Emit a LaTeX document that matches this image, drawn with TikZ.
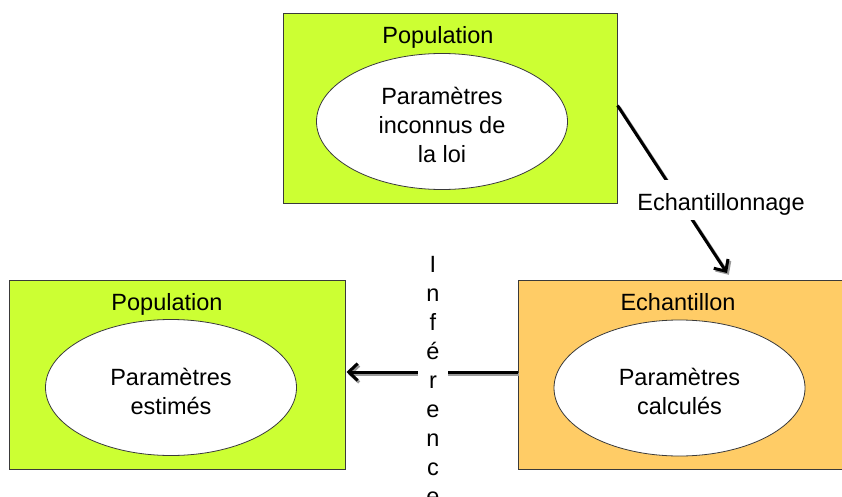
\documentclass[tikz,border=0pt]{standalone}
\usepackage{fontspec}
\setmainfont{Liberation Sans}
\usetikzlibrary{shapes.geometric,arrows.meta}
\definecolor{popgreen}{HTML}{CCFF33}
\definecolor{echorange}{HTML}{FFCC66}
\definecolor{edgegrey}{HTML}{3A3A3A}
\definecolor{shadowgrey}{HTML}{9A9A9A}
\newcommand\dfont{\fontsize{23.5}{29}\selectfont}
\begin{document}
\begin{tikzpicture}[x=1pt,y=-1pt,
  box/.style={draw=edgegrey, line width=1pt, rectangle, inner sep=0, minimum height=189pt},
  ell/.style={draw=edgegrey, line width=0.8pt, ellipse, fill=white, inner sep=0,
    minimum width=251pt, minimum height=136pt},
  etext/.style={align=center, font=\dfont, inner sep=0},
  title/.style={anchor=base, font=\dfont, inner sep=0},
  conn/.style={line width=3pt, -{Straight Barb[length=9pt,width=17pt]}},
  shade/.style={conn, draw=shadowgrey}
]
\useasboundingbox (0,0) rectangle (842,497);
\clip (0,0) rectangle (842,497);
\fill[white] (0,0) rectangle (842,497);

% boxes
\node[box, fill=popgreen, minimum width=334pt] (popTop) at (450,108.5) {};
\node[box, fill=popgreen, minimum width=336pt] (popLeft) at (177,374.5) {};
\node[box, fill=echorange, minimum width=352pt] (ech) at (694,374.5) {};

% ellipses
\node[ell] (eTop) at (442,121.5) {};
\node[ell] (eLeft) at (171,387.5) {};
\node[ell] (eRight) at (679.5,388) {};
\node[etext] (xTop) at ([yshift=-3.5pt]eTop.center) {Paramètres\\inconnus de\\la loi};
\node[etext] (xLeft) at ([yshift=-3.5pt]eLeft.center) {Paramètres\\estimés};
\node[etext] (xRight) at ([yshift=-3.5pt]eRight.center) {Paramètres\\calculés};

% titles
\node[title] (tTop) at (438,44) {Population};
\node[title] (tLeft) at (167,310) {Population};
\node[title] (tRight) at (678,310) {Echantillon};

% connectors
\coordinate (a1end) at (727,273);
\draw[shade] ([xshift=1.8pt,yshift=1.2pt]popTop.east) -- ([xshift=1.8pt,yshift=-1.8pt]a1end);
\draw[conn] ([yshift=3pt]popTop.east) -- (a1end);
\draw[shade] ([xshift=1.5pt,yshift=0.5pt]ech.west) -- ([yshift=0.5pt,xshift=2.5pt]popLeft.east);
\draw[conn] ([yshift=2.5pt]ech.west) -- ([yshift=2.5pt,xshift=1pt]popLeft.east);

% labels
\node[anchor=base, fill=white, font=\dfont, inner xsep=2pt, inner ysep=0pt,
  text height=30pt, text depth=10pt] (lEch) at (721,210) {Echantillonnage};
\node[anchor=north, fill=white, font=\dfont, align=center, inner xsep=8.5pt, inner ysep=0pt]
  (lInf) at (433,256) {I\\n\\f\\é\\r\\e\\n\\c\\e};
\end{tikzpicture}
\end{document}
